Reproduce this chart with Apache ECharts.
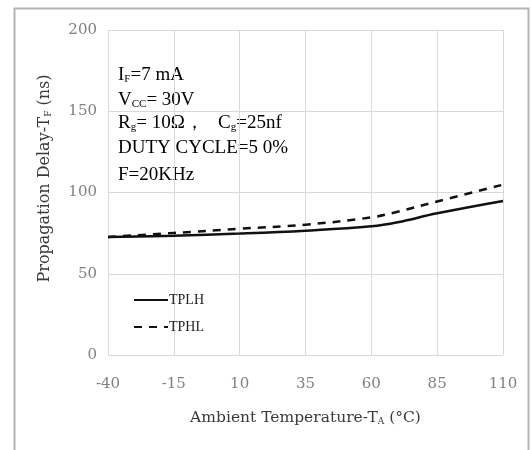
<!DOCTYPE html>
<html>
<head>
<meta charset="utf-8">
<script src="https://cdn.jsdelivr.net/npm/echarts@6/dist/echarts.min.js"></script>
<style>html,body{margin:0;padding:0;background:#fff;}#c{width:531px;height:450px;}</style>
</head>
<body>
<div id="c"></div>
<script>
const temperatures = [-40, -15, 10, 35, 60, 70, 85, 110];
const tplh = [72.6, 73.4, 74.7, 76.5, 79.2, 81.7, 87.2, 94.8];
const tphl = [72.6, 75.1, 77.7, 80.2, 84.7, 88.2, 94.5, 104.8];
const xTicks = [-40, -15, 10, 35, 60, 85, 110];
const yTicks = [0, 50, 100, 150, 200];

const serif = 'DejaVu Serif';
const times = 'Liberation Serif';
const chart = echarts.init(document.getElementById('c'));

function pairs(xs, ys) { return xs.map((x, i) => [x, ys[i]]); }

const noteRich = {
  n: { fontSize: 19, fontFamily: times, color: '#000' },
  s: { fontSize: 11, fontFamily: times, color: '#000', verticalAlign: 'bottom', padding: [6, 0, 0, 0] }
};
const noteLines = [
  '{n|I}{s|F}{n|=7 mA}',
  '{n|V}{s|CC}{n|= 30V}',
  '{n|R}{s|g}{n|= 10Ω，   C}{s|g}{n|=25nf}',
  '{n|DUTY CYCLE=5 0%}',
  '{n|F=20KHz}'
];
const noteY = [75, 100, 123, 148, 175];

chart.setOption({
  animation: false,
  backgroundColor: '#fff',
  grid: { left: 108, right: 28, top: 30, bottom: 95 },
  xAxis: {
    type: 'value', min: xTicks[0], max: xTicks[xTicks.length - 1], interval: 25,
    axisLine: { show: false }, axisTick: { show: false },
    splitLine: { show: true, lineStyle: { color: '#d9d9d9', width: 1 } },
    axisLabel: { color: '#808080', fontFamily: serif, fontSize: 15, margin: 22 },
    name: '{a|Ambient Temperature-T}{b|A}{a| (°C)}',
    nameLocation: 'middle', nameGap: 55,
    nameTextStyle: {
      rich: {
        a: { fontFamily: serif, fontSize: 15.5, color: '#3a3a3a' },
        b: { fontFamily: serif, fontSize: 9, color: '#3a3a3a', verticalAlign: 'bottom', padding: [6, 0, 0, 0] }
      }
    }
  },
  yAxis: {
    type: 'value', min: yTicks[0], max: yTicks[yTicks.length - 1], interval: 50,
    axisLine: { show: false }, axisTick: { show: false },
    splitLine: { show: true, lineStyle: { color: '#d9d9d9', width: 1 } },
    axisLabel: { color: '#808080', fontFamily: serif, fontSize: 15, margin: 11 },
    name: '{a|Propagation Delay-T}{b|F}{a| (ns)}',
    nameLocation: 'middle', nameGap: 55,
    nameTextStyle: {
      padding: [0, 0, 0, 28],
      rich: {
        a: { fontFamily: serif, fontSize: 16, color: '#3a3a3a' },
        b: { fontFamily: serif, fontSize: 9, color: '#3a3a3a', verticalAlign: 'bottom', padding: [6, 0, 0, 0] }
      }
    }
  },
  legend: {
    orient: 'vertical', left: 128, top: 288, itemWidth: 34, itemHeight: 14, itemGap: 13,
    itemStyle: { opacity: 0 },
    textStyle: { fontFamily: times, fontSize: 14, color: '#222', padding: [0, 0, 0, -4] },
    data: ['TPLH', 'TPHL']
  },
  series: [
    { name: 'TPLH', type: 'line', smooth: 0.4, symbol: 'none', data: pairs(temperatures, tplh),
      lineStyle: { color: '#111', width: 2.5, type: 'solid' }, itemStyle: { color: '#111' } },
    { name: 'TPHL', type: 'line', smooth: 0.4, symbol: 'none', data: pairs(temperatures, tphl),
      lineStyle: { color: '#111', width: 2.5, type: [8, 7] }, itemStyle: { color: '#111' } }
  ],
  graphic: [
    { type: 'rect', shape: { x: 14.5, y: 8.5, width: 514, height: 460 }, silent: true,
      style: { fill: 'none', stroke: '#b5b5b5', lineWidth: 2 } }
  ].concat(noteLines.map((t, i) => ({
    type: 'text', left: 118, top: noteY[i] - 9, silent: true,
    style: { text: t, rich: noteRich }
  })))
});
</script>
</body>
</html>
